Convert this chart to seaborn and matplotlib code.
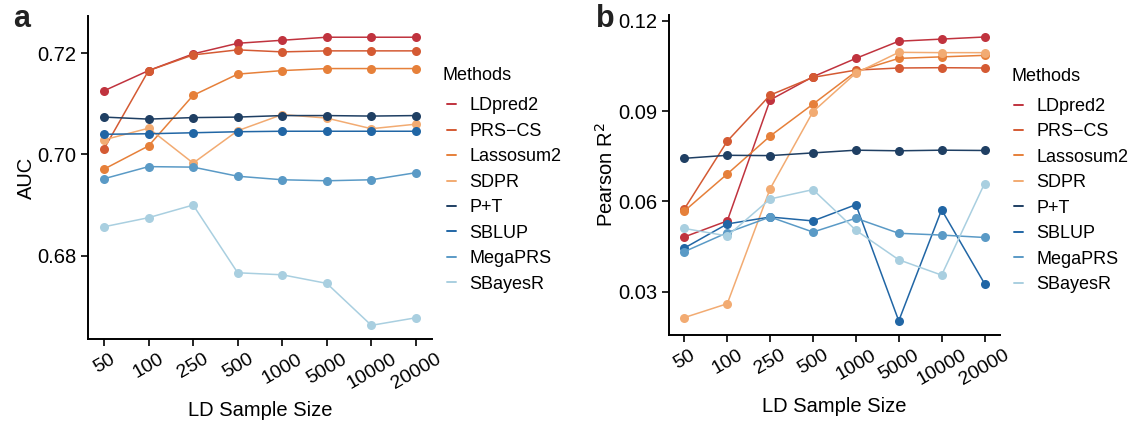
import numpy as np
import pandas as pd
import matplotlib
matplotlib.use("Agg")
import matplotlib.pyplot as plt
from matplotlib.lines import Line2D
import seaborn as sns

# -----------------------------------------------------
# Data
# -----------------------------------------------------
ld_sizes = ["50", "100", "250", "500", "1000", "5000", "10000", "20000"]
methods = ["LDpred2", "PRS\u2212CS", "Lassosum2", "SDPR", "P+T", "SBLUP", "MegaPRS", "SBayesR"]
colors = ["#c0333e", "#d45a33", "#e6803a", "#f2ab72", "#1f3f63", "#2166a5", "#5a9ac6", "#a9cfe0"]

auc_ldpred2 = [0.7126, 0.7166, 0.7199, 0.7220, 0.7226, 0.7232, 0.7232, 0.7232]
auc_prscs = [0.7011, 0.7166, 0.7197, 0.7207, 0.7203, 0.7205, 0.7205, 0.7205]
auc_lassosum2 = [0.6971, 0.7017, 0.7117, 0.7159, 0.7166, 0.7170, 0.7170, 0.7170]
auc_sdpr = [0.7029, 0.7052, 0.6983, 0.7047, 0.7079, 0.7072, 0.7051, 0.7060]
auc_pt = [0.7074, 0.7070, 0.7073, 0.7074, 0.7077, 0.7077, 0.7076, 0.7077]
auc_sblup = [0.7040, 0.7041, 0.7043, 0.7045, 0.7046, 0.7046, 0.7046, 0.7046]
auc_megaprs = [0.6952, 0.6976, 0.6975, 0.6957, 0.6950, 0.6948, 0.6950, 0.6964]
auc_sbayesr = [0.6857, 0.6875, 0.6900, 0.6766, 0.6762, 0.6745, 0.6662, 0.6677]

r2_ldpred2 = [0.0482, 0.0535, 0.0937, 0.1014, 0.1075, 0.1132, 0.1139, 0.1146]
r2_prscs = [0.0575, 0.0800, 0.0953, 0.1012, 0.1036, 0.1043, 0.1044, 0.1043]
r2_lassosum2 = [0.0568, 0.0691, 0.0817, 0.0923, 0.1031, 0.1075, 0.1080, 0.1085]
r2_sdpr = [0.0214, 0.0260, 0.0642, 0.0898, 0.1026, 0.1095, 0.1094, 0.1094]
r2_pt = [0.0743, 0.0753, 0.0752, 0.0761, 0.0770, 0.0768, 0.0770, 0.0769]
r2_sblup = [0.0445, 0.0525, 0.0548, 0.0535, 0.0589, 0.0203, 0.0572, 0.0327]
r2_megaprs = [0.0433, 0.0496, 0.0548, 0.0498, 0.0544, 0.0494, 0.0488, 0.0480]
r2_sbayesr = [0.0510, 0.0485, 0.0608, 0.0639, 0.0504, 0.0406, 0.0355, 0.0659]

auc_all = [auc_ldpred2, auc_prscs, auc_lassosum2, auc_sdpr, auc_pt, auc_sblup, auc_megaprs, auc_sbayesr]
r2_all = [r2_ldpred2, r2_prscs, r2_lassosum2, r2_sdpr, r2_pt, r2_sblup, r2_megaprs, r2_sbayesr]


def to_long(values):
    rows = []
    for m, vals in zip(methods, values):
        for i, v in enumerate(vals):
            rows.append({"Methods": m, "pos": i, "value": v})
    return pd.DataFrame(rows)


df_auc = to_long(auc_all)
df_r2 = to_long(r2_all)

# -----------------------------------------------------
# Plot setup
# -----------------------------------------------------
sns.set_theme(style="white")
plt.rcParams["font.family"] = ["Liberation Sans", "DejaVu Sans"]
plt.rcParams["text.color"] = "black"
plt.rcParams["axes.labelcolor"] = "black"
palette = dict(zip(methods, colors))

fig = plt.figure(figsize=(11.35, 4.23), dpi=100)
ax_a = fig.add_axes([0.0775, 0.1986, 0.3031, 0.7636])
ax_b = fig.add_axes([0.5894, 0.2087, 0.2916, 0.7558])


def draw_panel(ax, df, ylabel, ylim, yticks, leg_xy, title_xy, ylabelpad):
    sns.lineplot(data=df, x="pos", y="value", hue="Methods", hue_order=methods,
                 palette=palette, marker="o", markersize=6.5, markeredgewidth=0,
                 linewidth=1.1, ax=ax, legend=False)
    ax.set_xlim(-0.36, 7.36)
    ax.set_ylim(*ylim)
    ax.set_xticks(range(len(ld_sizes)))
    ax.set_xticklabels(ld_sizes, rotation=30, ha="center", va="top", fontsize=14)
    ax.set_yticks(yticks)
    ax.set_yticklabels(["{:.2f}".format(t) for t in yticks], fontsize=14.5)
    ax.set_xlabel("LD Sample Size", fontsize=14.5, labelpad=6)
    ax.set_ylabel(ylabel, fontsize=14.5, labelpad=ylabelpad)
    for s in ["top", "right"]:
        ax.spines[s].set_visible(False)
    for s in ["left", "bottom"]:
        ax.spines[s].set_color("black")
        ax.spines[s].set_linewidth(1.4)
    ax.tick_params(axis="both", direction="out", length=5, width=1.2,
                   color="black", labelcolor="black", left=True, bottom=True)
    ax.grid(False)

    # legend: line-only keys, title placed by hand for a ggplot-like gap
    handles = [Line2D([0], [0], color=c, lw=1.4) for c in colors]
    ax.legend(handles, methods, loc="upper left", bbox_to_anchor=leg_xy,
              frameon=False, fontsize=13, handlelength=0.5,
              handletextpad=0.75, labelspacing=0.47, borderaxespad=0,
              borderpad=0, labelcolor="black")
    ax.text(title_xy[0], title_xy[1], "Methods", transform=ax.transAxes,
            fontsize=13, ha="left", va="center", color="black")


draw_panel(ax_a, df_auc, "AUC", (0.6635, 0.7274), [0.68, 0.70, 0.72],
           (1.043, 0.748), (1.032, 0.817), 1)
draw_panel(ax_b, df_r2, "Pearson R$^2$", (0.0157, 0.1219), [0.03, 0.06, 0.09, 0.12],
           (1.042, 0.741), (1.036, 0.809), 1)

fig.text(0.012, 0.955, "a", fontsize=22, fontweight="bold", va="center", color="#222222")
fig.text(0.525, 0.955, "b", fontsize=22, fontweight="bold", va="center", color="#222222")

fig.savefig("out.png", dpi=100)
